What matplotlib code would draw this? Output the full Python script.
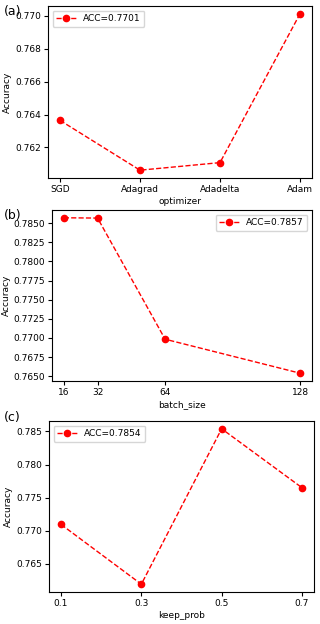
import matplotlib
matplotlib.use('Agg')
import matplotlib.pyplot as plt
from matplotlib.ticker import FormatStrFormatter

# (a) optimizer
optimizers = ['SGD', 'Adagrad', 'Adadelta', 'Adam']
acc_optimizer = [0.76365, 0.76062, 0.76108, 0.77013]

# (b) batch size
batch_sizes = [16, 32, 64, 128]
acc_batch = [0.78572, 0.78568, 0.76983, 0.76538]
batch_yticks = [0.7650, 0.7675, 0.7700, 0.7725, 0.7750, 0.7775, 0.7800,
                0.7825, 0.7850]

# (c) keep prob
keep_probs = [0.1, 0.3, 0.5, 0.7]
acc_keep = [0.77094, 0.76190, 0.78541, 0.77650]

plt.rcParams['font.size'] = 6.5

fig = plt.figure(figsize=(3.2, 6.24), dpi=100)
W, H = 320.0, 624.0


def make_axes(left, top, right, bottom):
    return fig.add_axes([left / W, 1 - bottom / H, (right - left) / W,
                         (bottom - top) / H])


def draw_panel(ax, x, y, xlabel, loc, xticks=None):
    ax.plot(x, y, 'r--o', markersize=4.5, linewidth=1,
            label='ACC={:.4f}'.format(max(y)))
    ax.set_xlabel(xlabel, labelpad=2)
    ax.set_ylabel('Accuracy', labelpad=2)
    if xticks is not None:
        ax.set_xticks(xticks)
    ax.tick_params(length=3, pad=2)
    ax.legend(loc=loc, fontsize=6.5, handlelength=2.2, borderpad=0.4)


ax1 = make_axes(48, 6, 312, 178)
draw_panel(ax1, optimizers, acc_optimizer, 'optimizer', 'upper left')
ax1.set_yticks([0.762, 0.764, 0.766, 0.768, 0.770])

ax2 = make_axes(52, 210, 312, 381)
draw_panel(ax2, batch_sizes, acc_batch, 'batch_size', 'upper right',
           xticks=batch_sizes)
ax2.set_yticks(batch_yticks)
ax2.yaxis.set_major_formatter(FormatStrFormatter('%.4f'))

ax3 = make_axes(49, 421, 314, 592)
draw_panel(ax3, keep_probs, acc_keep, 'keep_prob', 'upper left',
           xticks=keep_probs)

fig.text(4 / W, 1 - 12 / H, '(a)', fontsize=9, va='center')
fig.text(4 / W, 1 - 215 / H, '(b)', fontsize=9, va='center')
fig.text(4 / W, 1 - 417 / H, '(c)', fontsize=9, va='center')

plt.savefig('out.png', dpi=100)
plt.close(fig)
